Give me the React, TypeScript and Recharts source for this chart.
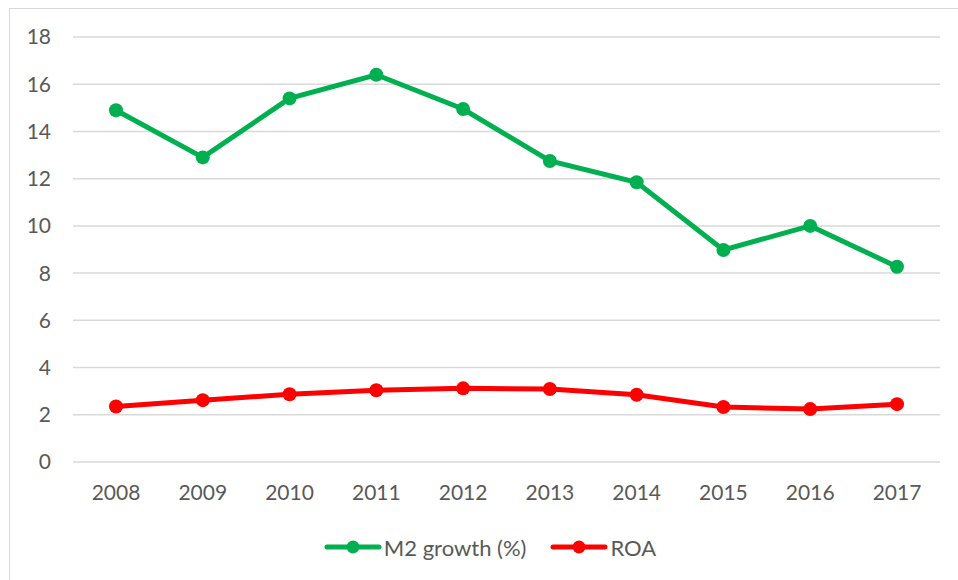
import React from 'react';
import { LineChart, Line, XAxis, YAxis, CartesianGrid, Legend } from 'recharts';

const years = ['2008', '2009', '2010', '2011', '2012', '2013', '2014', '2015', '2016', '2017'];
const m2Growth = [14.9, 12.9, 15.4, 16.4, 14.95, 12.75, 11.85, 8.98, 10.0, 8.27];
const roa = [2.35, 2.62, 2.87, 3.04, 3.12, 3.09, 2.85, 2.33, 2.24, 2.45];
const yTicks = [0, 2, 4, 6, 8, 10, 12, 14, 16, 18];

const data = years.map((y, i) => ({ year: y, m2: m2Growth[i], roa: roa[i] }));

const FONT = 'Lato, "Open Sans", sans-serif';
const TEXT = '#595959';

const LegendContent = (props: any) => {
  const items = props.payload || [];
  return (
    <div style={{ display: 'flex', justifyContent: 'center', alignItems: 'center', fontFamily: FONT, fontSize: 22, color: TEXT, height: 26, paddingLeft: 30 }}>
      {items.map((it: any, i: number) => (
        <div key={i} style={{ display: 'flex', alignItems: 'center', marginRight: i === 0 ? 24 : 0 }}>
          <svg width={58} height={20} style={{ marginRight: 2 }}>
            <line x1={3} y1={10} x2={55} y2={10} stroke={it.color} strokeWidth={5} strokeLinecap="round" />
            <circle cx={29} cy={10} r={6.5} fill={it.color} />
          </svg>
          <span>{it.value}</span>
        </div>
      ))}
    </div>
  );
};

export default function App() {
  return (
    <div style={{ position: 'absolute', left: 0, top: 0, width: 958, height: 580, overflow: 'hidden', background: '#fff' }}>
      <div style={{ position: 'absolute', left: 9, top: 8, width: 1000, height: 620, border: '1.5px solid #d9d9d9', boxSizing: 'border-box' }} />
      <div style={{ position: 'absolute', left: 0, top: 0 }}>
        <LineChart width={958} height={580} data={data} margin={{ top: 37, right: 18, left: 10, bottom: 20 }}>
          <CartesianGrid vertical={false} stroke="#d9d9d9" strokeWidth={1.5} />
          <XAxis
            dataKey="year"
            axisLine={false}
            tickLine={false}
            tickSize={0}
            tickMargin={23}
            height={72}
            padding={{ left: 43, right: 43 }}
            tick={{ fill: TEXT, fontSize: 21, fontFamily: FONT }}
          />
          <YAxis
            domain={[0, 18]}
            ticks={yTicks}
            interval={0}
            axisLine={false}
            tickLine={false}
            tickSize={0}
            tickMargin={22}
            width={63}
            tick={{ fill: TEXT, fontSize: 21, fontFamily: FONT }}
          />
          <Legend verticalAlign="bottom" content={<LegendContent />} />
          <Line
            type="linear"
            dataKey="m2"
            name="M2 growth (%)"
            stroke="#00B050"
            strokeWidth={5}
            dot={{ r: 7, fill: '#00B050', stroke: '#00B050', strokeWidth: 0 }}
            isAnimationActive={false}
          />
          <Line
            type="linear"
            dataKey="roa"
            name="ROA"
            stroke="#FF0000"
            strokeWidth={5}
            dot={{ r: 7, fill: '#FF0000', stroke: '#FF0000', strokeWidth: 0 }}
            isAnimationActive={false}
          />
        </LineChart>
      </div>
    </div>
  );
}
